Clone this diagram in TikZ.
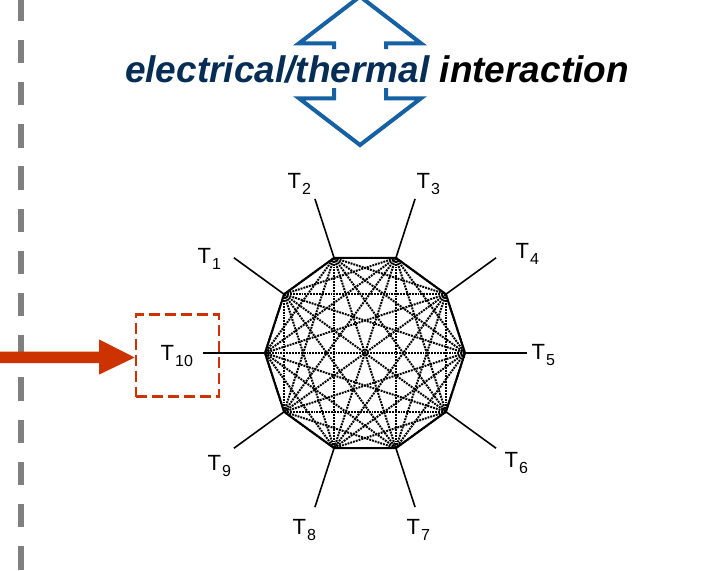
\documentclass[tikz,border=0pt]{standalone}
\usepackage{fontspec}
\setmainfont{Liberation Sans}
\usetikzlibrary{calc}
\definecolor{arrowblue}{RGB}{22,96,164}
\definecolor{navytext}{RGB}{5,45,85}
\definecolor{redorange}{RGB}{204,51,0}
\definecolor{dashgray}{RGB}{128,128,128}
\newcommand{\Tlab}[1]{T\hspace{1pt}\raisebox{-6pt}{\fontsize{16}{16}\selectfont #1}}
\begin{document}
\begin{tikzpicture}[x=1pt,y=-1pt,
  lab/.style={font=\fontsize{22}{24}\selectfont, inner sep=0pt, anchor=base west},
  spoke/.style={line width=1.6pt, black},
  rim/.style={line width=2pt, black, line join=round},
  chord/.style={line width=2pt, black, dash pattern=on 1.9pt off 1pt},
  bluearrow/.style={draw=arrowblue, line width=4pt, line join=miter},
  divider/.style={dashgray, line width=6pt, dash pattern=on 23.5pt off 18.7pt},
  redbox/.style={draw=redorange, line width=2.2pt, dash pattern=on 11pt off 5pt, minimum width=83pt, minimum height=82pt, inner sep=0pt},
  titlefont/.style={font=\fontsize{37}{40}\selectfont\bfseries\itshape, inner sep=0pt, anchor=base}]
\useasboundingbox (0,0) rectangle (706,570);
\fill[white] (0,0) rectangle (706,570);

% gray dashed divider
\coordinate (dtop) at (21,-2.5);
\coordinate (dbot) at (21,575);
\draw[divider] (dtop) -- (dbot);

% blue double arrow (outline)
\draw[bluearrow] (334,49) -- (334,43.3) -- (299,43.3) -- (360,-3.5) -- (421,43.3) -- (386,43.3) -- (386,49);
\draw[bluearrow] (334,88) -- (334,98.3) -- (299,98.3) -- (360,145) -- (421,98.3) -- (386,98.3) -- (386,88);

% title
\node[titlefont] (title) at (377,82) {\textcolor{navytext}{electrical/thermal} interaction};

% decagon
\coordinate (c) at (365,353);
\foreach \k in {1,...,10} {
  \coordinate (v\k) at ($(c)+({36*\k-180}:100)$);
  \coordinate (e\k) at ($(c)+({36*\k-180}:162)$);
}
\foreach \i in {1,...,9} {
  \pgfmathtruncatemacro{\jstart}{\i+1}
  \foreach \j in {\jstart,...,10} {
    \draw[chord] (v\i) -- (v\j);
  }
}
\draw[rim] (v1) -- (v2) -- (v3) -- (v4) -- (v5) -- (v6) -- (v7) -- (v8) -- (v9) -- (v10) -- cycle;
\foreach \k in {1,...,10} {
  \draw[spoke] (v\k) -- (e\k);
}

% labels
\node[lab] (t1) at (197.5,263) {\Tlab{1}};
\node[lab] (t2) at (287.5,188) {\Tlab{2}};
\node[lab] (t3) at (416.5,188) {\Tlab{3}};
\node[lab] (t4) at (515.5,258) {\Tlab{4}};
\node[lab] (t5) at (531.5,359) {\Tlab{5}};
\node[lab] (t6) at (504.5,467) {\Tlab{6}};
\node[lab] (t7) at (406.5,534) {\Tlab{7}};
\node[lab] (t8) at (292.5,534) {\Tlab{8}};
\node[lab] (t9) at (207.5,470) {\Tlab{9}};

% T10 in dashed box
\node[redbox] (box) at (177.3,355.5) {};
\node[lab] (t10) at (160.5,360.5) {\Tlab{10}};

% red input arrow
\fill[redorange] ($(box.west)+(-142,-4)$) -- ($(box.west)+(-35.5,-4)$) -- ($(box.west)+(-35.5,-16)$) -- ($(box.west)+(0,2)$) -- ($(box.west)+(-35.5,19)$) -- ($(box.west)+(-35.5,7.6)$) -- ($(box.west)+(-142,7.6)$) -- cycle;
\end{tikzpicture}
\end{document}
